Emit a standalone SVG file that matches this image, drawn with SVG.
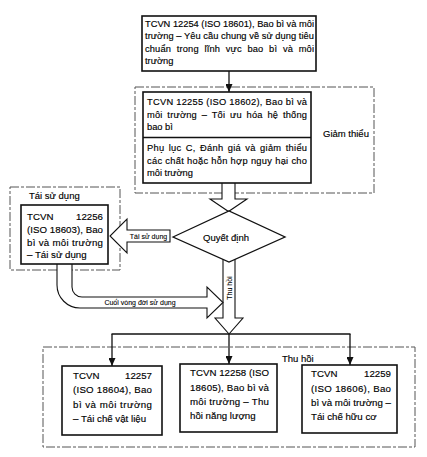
<svg xmlns="http://www.w3.org/2000/svg" width="427" height="457" viewBox="0 0 427 457">
<style>
text{font-family:"Liberation Sans",Arial,sans-serif;fill:#000;stroke:#000;stroke-width:0.15;}
.t{font-size:9.3px;}
.b{font-size:9.7px;}
.lbl{font-size:9.5px;}
.s{font-size:7px;stroke-width:0.1;}
.box{fill:#fff;stroke:#111;stroke-width:1.6;}
.grp{fill:none;stroke:#555;stroke-width:1;stroke-dasharray:9 2 3 2;}
.hol{fill:#fff;stroke:#111;stroke-width:1.1;}
.con{fill:none;stroke:#111;stroke-width:1.3;}
</style>
<defs>
<marker id="ah" markerUnits="userSpaceOnUse" markerWidth="8" markerHeight="7" refX="8" refY="3.5" orient="auto">
<path d="M0,0 L8,3.5 L0,7 z" fill="#111"/>
</marker>
</defs>
<rect width="427" height="457" fill="#fff"/>

<!-- group frames -->
<g id="grp-giam">
<rect class="grp" x="135" y="87" width="239" height="106"/>
<text class="lbl" x="323" y="137">Giảm thiểu</text>
</g>
<g id="grp-tai">
<rect class="grp" x="10" y="187" width="110" height="83"/>
<text class="lbl" x="29" y="199">Tái sử dụng</text>
</g>
<g id="grp-thu">
<rect class="grp" x="43" y="347" width="372" height="100"/>
<text class="lbl" x="282" y="362">Thu hồi</text>
</g>

<!-- connectors -->
<g id="connectors">
<line class="con" x1="229" y1="71" x2="229" y2="92" marker-end="url(#ah)"/>
<line class="con" x1="111.5" y1="334" x2="350.5" y2="334"/>
<line class="con" x1="112" y1="334" x2="112" y2="366" marker-end="url(#ah)"/>
<line class="con" x1="229" y1="334" x2="229" y2="364" marker-end="url(#ah)"/>
<line class="con" x1="350" y1="334" x2="350" y2="365" marker-end="url(#ah)"/>
<path class="hol" d="M222,183 L222,199 L210,199 L228.5,211.5 L247,199 L235,199 L235,183"/>
<path class="hol" d="M170,230 L127,230 L127,219 L110,236 L127,253 L127,242 L170,242 Z"/>
<text class="s" x="148.5" y="238.5" text-anchor="middle">Tái sử dụng</text>
<path class="hol" d="M223,259 L223,318 L215,318 L229,334 L243,318 L235,318 L235,259"/>
<text class="s" transform="translate(231.6,288) rotate(-90)" text-anchor="middle">Thu hồi</text>
<path class="hol" d="M57,264 L57,285 A23,23 0 0 0 80,308 L207,308 L207,318 L223,302.5 L207,287 L207,297 L82,297 A10,10 0 0 1 72,287 L72,264"/>
<text class="s" x="140" y="305" text-anchor="middle">Cuối vòng đời sử dụng</text>
</g>

<!-- nodes -->
<g id="n12254">
<rect class="box" x="142" y="16" width="174" height="55"/>
<text class="t" x="145" y="26.5" textLength="169" lengthAdjust="spacing">TCVN 12254 (ISO 18601), Bao bì và môi</text>
<text class="t" x="145" y="39" textLength="169" lengthAdjust="spacing">trường – Yêu cầu chung về sử dụng tiêu</text>
<text class="t" x="145" y="51.5" textLength="169" lengthAdjust="spacing" word-spacing="3">chuẩn trong lĩnh vực bao bì và môi</text>
<text class="t" x="145" y="64">trường</text>
</g>

<g id="n12255">
<rect class="box" x="143" y="92" width="168" height="91"/>
<line x1="143" y1="137.5" x2="311" y2="137.5" stroke="#111" stroke-width="1.4"/>
<text class="t" x="147" y="105" textLength="160" lengthAdjust="spacing">TCVN 12255 (ISO 18602), Bao bì và</text>
<text class="t" x="147" y="117.5" textLength="160" lengthAdjust="spacing" word-spacing="2">môi trường – Tối ưu hóa hệ thống</text>
<text class="t" x="147" y="130">bao bì</text>
<text class="t" x="147" y="151" textLength="160" lengthAdjust="spacing" word-spacing="1.5">Phụ lục C, Đánh giá và giảm thiểu</text>
<text class="t" x="147" y="163.5" textLength="160" lengthAdjust="spacing">các chất hoặc hỗn hợp nguy hại cho</text>
<text class="t" x="147" y="176">môi trường</text>
</g>

<g id="decision">
<path d="M173,237 L229,211 L285,237 L229,262 Z" fill="#fff" stroke="#111" stroke-width="1.3"/>
<text class="lbl" x="226" y="240.5" text-anchor="middle">Quyết định</text>
</g>

<g id="n12256">
<rect class="box" x="21" y="205" width="87" height="59"/>
<text class="b" x="27" y="219.5">TCVN</text>
<text class="b" x="103" y="219.5" text-anchor="end">12256</text>
<text class="b" x="27" y="232.5" textLength="76" lengthAdjust="spacing">(ISO 18603), Bao</text>
<text class="b" x="27" y="245.5" textLength="76" lengthAdjust="spacing">bì và môi trường</text>
<text class="b" x="27" y="258">– Tái sử dụng</text>
</g>

<g id="n12257">
<rect class="box" x="62" y="366" width="100" height="69"/>
<text class="b" x="73" y="378.5">TCVN</text>
<text class="b" x="152" y="378.5" text-anchor="end">12257</text>
<text class="b" x="73" y="393" textLength="79" lengthAdjust="spacing">(ISO 18604), Bao</text>
<text class="b" x="73" y="407.5" textLength="79" lengthAdjust="spacing">bì và môi trường</text>
<text class="b" x="73" y="421.5">– Tái chế vật liệu</text>
</g>

<g id="n12258">
<rect class="box" x="180" y="364" width="97" height="68"/>
<text class="b" x="190" y="376" textLength="79" lengthAdjust="spacing">TCVN 12258 (ISO</text>
<text class="b" x="190" y="390.5" textLength="79" lengthAdjust="spacing">18605), Bao bì và</text>
<text class="b" x="190" y="405" textLength="79" lengthAdjust="spacing">môi trường – Thu</text>
<text class="b" x="190" y="419">hồi năng lượng</text>
</g>

<g id="n12259">
<rect class="box" x="302" y="365" width="95" height="68"/>
<text class="b" x="311" y="377">TCVN</text>
<text class="b" x="391" y="377" text-anchor="end">12259</text>
<text class="b" x="311" y="391.5" textLength="80" lengthAdjust="spacing">(ISO 18606), Bao</text>
<text class="b" x="311" y="406" textLength="80" lengthAdjust="spacing">bì và môi trường –</text>
<text class="b" x="311" y="420">Tái chế hữu cơ</text>
</g>
</svg>
